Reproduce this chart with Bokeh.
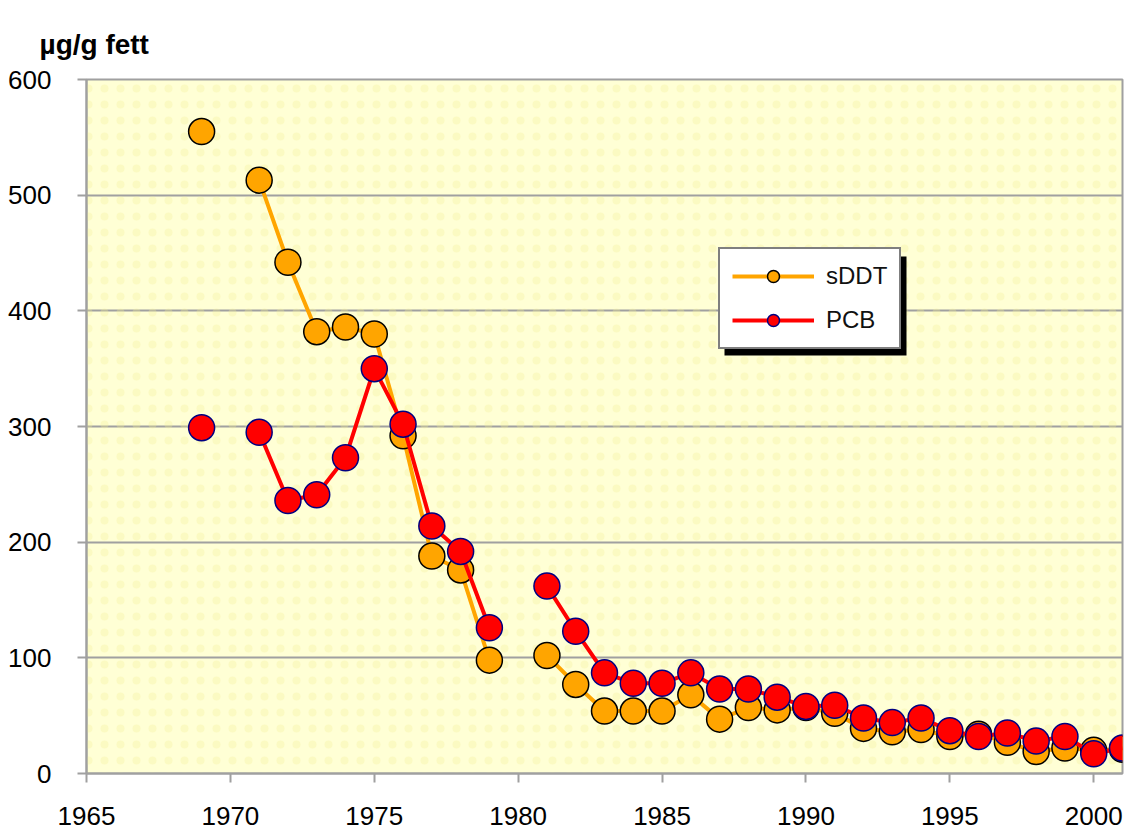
import numpy as np
from bokeh.plotting import figure
from bokeh.models import ColumnDataSource, Legend, LegendItem, SingleIntervalTicker, BoxAnnotation, Title
from bokeh.embed import file_html
from bokeh.resources import INLINE

nan = np.nan
years = list(range(1969, 2002))
sddt = [555, nan, 513, 442, 382, 386, 380, 292, 188, 176, 98, nan,
        102, 77, 54, 54, 54, 68, 47, 57, 55, 57, 52, 39, 36, 38, 32, 34, 27, 19, 22, 20, 21]
pcb = [299, nan, 295, 236, 241, 273, 350, 302, 214, 192, 126, nan,
       162, 123, 87, 78, 78, 87, 73, 73, 66, 58, 59, 48, 44, 48, 37, 32, 35, 28, 32, 17, 22]
series_names = ["sDDT", "PCB"]
y_label = "µg/g fett"

src = ColumnDataSource(dict(year=years, sddt=sddt, pcb=pcb))

FONT = "Liberation Sans"
p = figure(width=1125, height=829, x_range=(1965, 2001), y_range=(0, 600),
           output_backend="svg", toolbar_location=None,
           min_border_left=86, min_border_right=3, min_border_top=79, min_border_bottom=56)

p.background_fill_color = "#FFFFD5"
p.border_fill_color = "white"
p.outline_line_color = "#A0A0A0"
p.outline_line_width = 2

# faint dotted texture
p.add_layout(BoxAnnotation(fill_alpha=0, line_alpha=0, hatch_pattern="dot",
                           hatch_color="#F2EE95", hatch_scale=16, hatch_alpha=0.3,
                           level="underlay"))

p.xgrid.grid_line_color = None
p.ygrid.grid_line_color = "#A0A0A0"
p.ygrid.grid_line_width = 2

p.xaxis.ticker = SingleIntervalTicker(interval=5)
p.yaxis.ticker = SingleIntervalTicker(interval=100)
for ax in (p.xaxis[0], p.yaxis[0]):
    ax.axis_line_color = "#A0A0A0"
    ax.axis_line_width = 2
    ax.major_tick_line_color = "#A0A0A0"
    ax.major_tick_line_width = 2
    ax.major_tick_out = 9
    ax.major_tick_in = 0
    ax.minor_tick_line_color = None
    ax.major_label_text_font = FONT
    ax.major_label_text_font_size = "26px"
    ax.major_label_text_color = "#000000"
p.xaxis.major_label_standoff = 24
p.yaxis.major_label_standoff = 26

orange = "#FFA500"
red = "#FF0000"
l1 = p.line("year", "sddt", source=src, line_color=orange, line_width=4)
s1 = p.scatter("year", "sddt", source=src, size=26, fill_color=orange,
               line_color="black", line_width=1.5)
l2 = p.line("year", "pcb", source=src, line_color=red, line_width=4)
s2 = p.scatter("year", "pcb", source=src, size=26, fill_color=red,
               line_color="#000080", line_width=1.5)

# legend shadow (screen units relative to frame)
p.add_layout(BoxAnnotation(left=638, right=638 + 182, bottom=418, top=418 + 99,
                           left_units="screen", right_units="screen",
                           bottom_units="screen", top_units="screen",
                           fill_color="black", fill_alpha=1, line_alpha=0))

lg = Legend(items=[LegendItem(label=series_names[0], renderers=[l1, s1]),
                   LegendItem(label=series_names[1], renderers=[l2, s2])],
            location=(632, 424), orientation="vertical")
lg.label_text_font = FONT
lg.label_text_font_size = "24px"
lg.label_text_color = "#111111"
lg.glyph_width = 82
lg.glyph_height = 30
lg.label_height = 30
lg.label_standoff = 12
lg.spacing = 14
lg.padding = 12
lg.margin = 0
lg.border_line_width = 2
lg.border_line_color = "black"
lg.background_fill_color = "white"
lg.background_fill_alpha = 1
p.add_layout(lg, "center")

p.title = Title(text=y_label, text_font=FONT, text_font_size="28px",
                text_font_style="bold", align="left", vertical_align="top",
                offset=-47, standoff=35, text_color="#000000")

open("out.html", "w").write(file_html(p, INLINE))
